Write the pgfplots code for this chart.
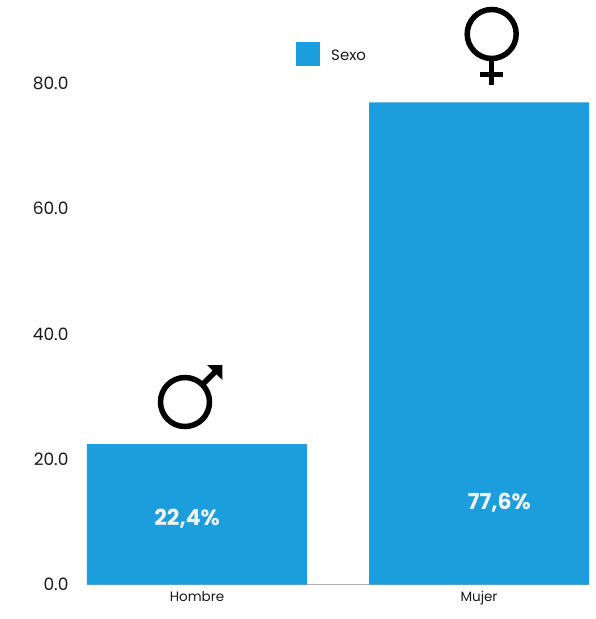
\documentclass[border=0pt]{standalone}
\usepackage{fontspec}
\setmainfont{Poppins}
\usepackage{pgfplots}
\pgfplotsset{compat=1.18}
\definecolor{barblue}{HTML}{1B9EDB}
\definecolor{gridgrey}{HTML}{E2E2E2}
\definecolor{txt}{HTML}{1A1A1A}
\pgfplotstableread{
x y
0 22.4
1 77.0
}\sexdata
\begin{document}
\begin{tikzpicture}[x=1bp,y=-1bp,line cap=butt]
\path[use as bounding box] (0,0) rectangle (596,619);
\begin{axis}[
  at={(87bp,-584.5bp)}, anchor=south west,
  scale only axis, width=502bp, height=501bp,
  xmin=-0.39, xmax=1.39, ymin=0, ymax=80,
  axis x line*=bottom, axis y line=none,
  axis line style={draw=black!30, line width=1bp},
  ytick={0,20,40,60,80},
  xtick={0,1}, xticklabels={Hombre,Mujer},
  major tick length=0pt,
  ymajorgrids, grid style={gridgrey,line width=1.2bp},
  xticklabel style={font=\fontsize{13.5bp}{16bp}\selectfont,text=txt,yshift=-3bp},
  clip=false,
]
\addplot[ybar, bar width=220bp, fill=barblue, draw=none, forget plot] table[x=x,y=y]{\sexdata};
\pgfplotsinvokeforeach{0,20,40,60,80}{
  \node[anchor=east,text=txt,font=\fontsize{17bp}{20bp}\selectfont] at (axis cs:-0.39,#1) [xshift=-15bp] {\pgfmathprintnumber[fixed,fixed zerofill,precision=1,assume math mode=true]{#1}};
}
\node[text=white!95!black,font=\fontsize{22bp}{26bp}\bfseries\selectfont] at (axis cs:-0.035,10.5) {22,4\%};
\node[text=white!95!black,font=\fontsize{22bp}{26bp}\bfseries\selectfont] at (axis cs:1.072,13) {77,6\%};
\end{axis}
% legend
\fill[barblue] (296,42) rectangle (320,66);
\node[anchor=west,text=txt,font=\fontsize{15bp}{18bp}\selectfont,inner sep=0pt] at (331,55) {Sexo};
% male symbol
\draw[black,line width=5.5bp] (185,402) circle (24.5);
\draw[black,line width=5.5bp] (203,384) -- (216,371);
\fill[black] (207,365) -- (222.3,365) -- (222.3,380) -- cycle;
% female symbol
\draw[black,line width=5.5bp] (491.7,34) circle (24.5);
\draw[black,line width=5.5bp] (491.7,60) -- (491.7,85);
\draw[black,line width=5.5bp] (480,74.3) -- (502.7,74.3);
\end{tikzpicture}
\end{document}
